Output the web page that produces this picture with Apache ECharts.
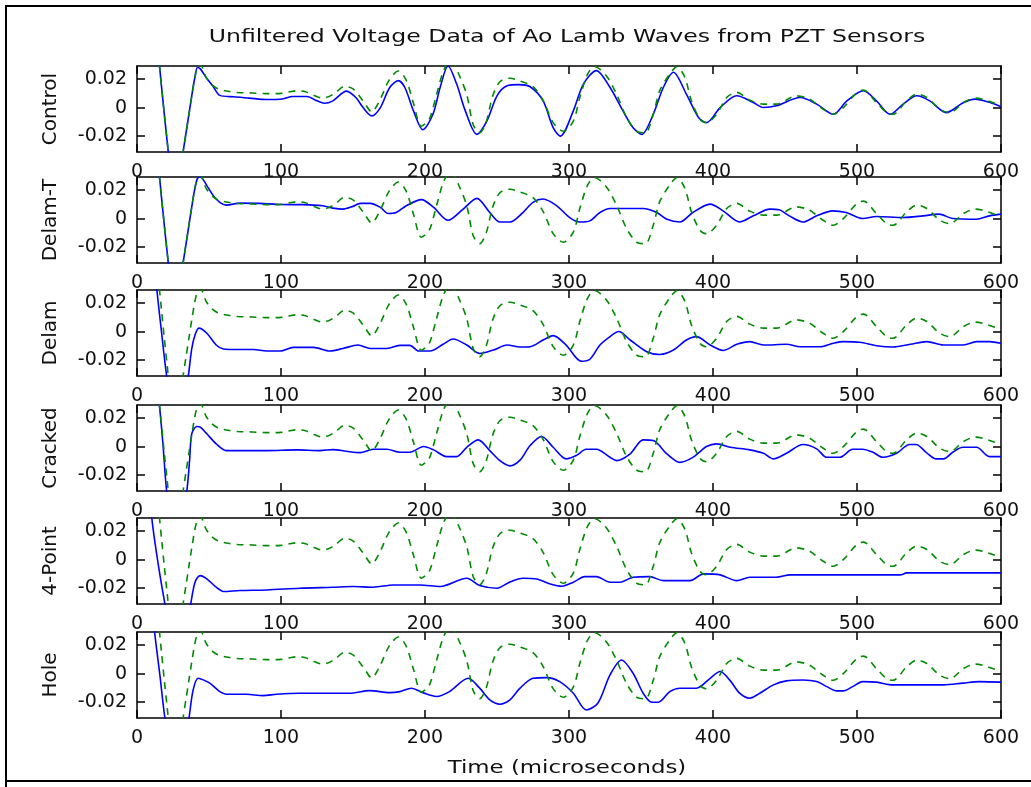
<!DOCTYPE html>
<html>
<head>
<meta charset="utf-8">
<script src="https://cdn.jsdelivr.net/npm/echarts@6/dist/echarts.min.js"></script>
<style>
html, body { margin: 0; padding: 0; background: #fff; }
#chart { width: 1031px; height: 787px; }
</style>
</head>
<body>
<div id="chart"></div>
<script>
// panel names, top to bottom
const panelNames = ['Control', 'Delam-T', 'Delam', 'Cracked', '4-Point', 'Hole'];
const xTicks = [0, 100, 200, 300, 400, 500, 600];
const yTicks = [-0.02, 0, 0.02];

// green dashed reference trace (same in every panel), [time us, volts]
const reference = [
    [10, 0.075], [13, 0.05], [15.5, 0.03], [17, 0.015], [19, -0.005], [21, -0.024], [23, -0.042],
    [26, -0.055], [29, -0.05], [32, -0.031], [34, -0.018], [36, -0.005], [38, 0.008], [40, 0.02],
    [42, 0.028], [44, 0.03], [48, 0.021], [52, 0.016], [56, 0.0132], [62, 0.0115], [70, 0.0105],
    [80, 0.0102], [90, 0.0097], [100, 0.0099], [106, 0.011], [111, 0.0117], [117, 0.011],
    [123, 0.0085], [128, 0.0068], [133, 0.0075], [138, 0.0105], [144, 0.0148], [150, 0.013],
    [157, 0.0047], [163, -0.003], [169, 0.006], [175, 0.019], [181.5, 0.0255], [187, 0.019],
    [192, 0.003], [197.5, -0.013], [203, -0.008], [208, 0.009], [213, 0.026], [218, 0.033],
    [224, 0.022], [229, 0.009], [233.5, -0.012], [238, -0.0175], [242.5, -0.01], [247, 0.008],
    [252, 0.018], [259, 0.0205], [266, 0.0185], [275, 0.0146], [282, 0.005], [289, -0.0105],
    [296, -0.0165], [303, -0.0094], [307.5, 0.007], [313, 0.0235], [318, 0.0285], [326, 0.022],
    [333, 0.0094], [340, -0.007], [347, -0.0165], [353, -0.0176], [358.5, -0.0047], [363, 0.0118],
    [370, 0.0235], [375, 0.0285], [380.5, 0.021], [385, 0.0047], [391, -0.0082], [395.5, -0.0106],
    [402.5, -0.0047], [409.5, 0.007], [416.5, 0.0106], [425.5, 0.0052], [435, 0.0024], [444, 0.0024],
    [458, 0.0082], [467, 0.0059], [476.5, -0.0012], [483.5, -0.0047], [490.5, 0], [500, 0.0106],
    [504.5, 0.0122], [513.5, 0.0035], [520.5, -0.0035], [525, -0.0047], [534.5, 0.0047],
    [541.5, 0.0094], [548.5, 0.007], [557.5, -0.0012], [564.5, -0.0035], [574, 0.0035], [582, 0.0066],
    [591, 0.0047], [600, 0.0012]
];

// blue traces, one per panel
const control = [
    [10, 0.075], [13, 0.05], [15.5, 0.03], [17, 0.015], [19, -0.005], [21, -0.024], [23, -0.042],
    [26, -0.055], [29, -0.05], [32, -0.031], [34, -0.018], [36, -0.005], [38, 0.008], [40, 0.02],
    [42, 0.028], [44, 0.027], [48, 0.021], [53, 0.0145], [57.5, 0.0085], [67, 0.0075], [78, 0.0066],
    [90, 0.0056], [101, 0.006], [108, 0.0077], [118, 0.0077], [125, 0.0047], [130, 0.003],
    [136, 0.0047], [145.5, 0.0115], [152, 0.007], [157, 0], [163, -0.0058], [169, 0], [175.5, 0.014],
    [181.5, 0.0188], [186, 0.014], [192, -0.0023], [198.5, -0.0155], [205.5, -0.0047], [210.5, 0.014],
    [216, 0.029], [222, 0.0164], [228, -0.0023], [236, -0.0187], [243, -0.0093], [250, 0.0082],
    [257, 0.0152], [265, 0.016], [273, 0.0145], [282, 0.0047], [289, -0.014], [294, -0.0199],
    [303, -0.0023], [310, 0.0164], [319, 0.0258], [328.5, 0.014], [337.5, -0.0023], [344.5, -0.014],
    [350.5, -0.0187], [358.5, -0.0047], [365.5, 0.014], [372.5, 0.0246], [381.5, 0.0094], [390, -0.007],
    [395.5, -0.0105], [405, 0], [416.5, 0.0082], [428, 0.0035], [435, 0], [444, 0.0012], [460.5, 0.007],
    [472, 0.0024], [483.5, -0.0047], [493, 0.0047], [504.5, 0.0117], [513.5, 0.0047], [523, -0.0047],
    [532, 0.0024], [541.5, 0.0082], [550.5, 0.0047], [562, -0.0035], [574, 0.0035], [582, 0.0059],
    [592.5, 0.0035], [600, 0.0005]
];

const delamT = [
    [10, 0.075], [13, 0.05], [15.5, 0.03], [17, 0.015], [19, -0.005], [21, -0.024], [23, -0.042],
    [26, -0.055], [29, -0.05], [32, -0.031], [34, -0.018], [36, -0.005], [38, 0.008], [40, 0.02],
    [42, 0.028], [44, 0.029], [48.5, 0.023], [53, 0.016], [57.5, 0.0113], [62, 0.0094], [71.5, 0.0108],
    [85, 0.0106], [100, 0.0098], [115, 0.0097], [129, 0.0089], [136, 0.0073], [143, 0.0066],
    [150, 0.0085], [155, 0.0106], [162, 0.0106], [169, 0.0078], [174.5, 0.0035], [180, 0.0042],
    [187, 0.0089], [197.5, 0.0132], [206, 0.0078], [216, -0.0012], [226.5, 0.0066], [236, 0.0141],
    [245, 0.0042], [252, -0.0024], [259, -0.0024], [268, 0.0042], [275, 0.0113], [282, 0.0136],
    [291.5, 0.0089], [300.5, 0.0007], [307.5, -0.0024], [314.5, -0.0016], [321.5, 0.0042],
    [328.5, 0.007], [351.5, 0.007], [361, 0.0042], [368, -0.0005], [377, -0.0024], [386, 0.0042],
    [398, 0.0101], [407, 0.0054], [418.5, -0.0024], [428, 0.0019], [439.5, 0.0066], [446, 0.0061],
    [453, 0.0019], [462.5, -0.0024], [472, 0.0019], [483, 0.0054], [492.5, 0.0042], [504, 0],
    [513.5, 0.0014], [532, 0.0007], [546, 0.0019], [557, 0.0031], [566.5, 0], [583, -0.0005],
    [592, 0.0019], [600, 0.0031]
];

const delam = [
    [10, 0.07], [13.7, 0.03], [17, 0.0], [20.6, -0.031], [24, -0.05], [28, -0.06], [32, -0.05],
    [35.6, -0.031], [38, -0.012], [40.3, -0.0024], [43, 0.0024], [48.5, -0.0012], [55, -0.0094],
    [60, -0.0122], [67, -0.0125], [81, -0.0125], [90, -0.0136], [99.5, -0.0136], [108.5, -0.011],
    [122.5, -0.011], [134, -0.0136], [143, -0.0118], [153.5, -0.0094], [162, -0.0118], [173, -0.0118],
    [182.5, -0.0096], [189.5, -0.0096], [195.5, -0.0136], [203.5, -0.0136], [212.5, -0.0089],
    [219.5, -0.0052], [229, -0.0094], [238, -0.0153], [247.5, -0.0129], [257, -0.0094], [266, -0.0108],
    [273, -0.0106], [282, -0.0059], [289, -0.0028], [298, -0.0094], [308.5, -0.0207], [314.5, -0.0193],
    [321.5, -0.0094], [328.5, -0.0035], [334.5, 0], [342.5, -0.0059], [354, -0.0141], [363, -0.016],
    [372.5, -0.0129], [381.5, -0.0059], [388.5, -0.0035], [398, -0.0094], [407, -0.0132],
    [416.5, -0.0089], [425.5, -0.007], [435, -0.0094], [451, -0.0089], [460.5, -0.0106],
    [474.5, -0.0106], [483.5, -0.0082], [490.5, -0.007], [502, -0.0075], [513.5, -0.0099],
    [525, -0.0108], [537, -0.0089], [548.5, -0.007], [560, -0.0094], [574, -0.0094], [583, -0.007],
    [592, -0.007], [600, -0.0082]
];

const cracked = [
    [10, 0.07], [15.4, 0.03], [18, 0.002], [20.6, -0.031], [24, -0.05], [28, -0.06], [31, -0.05],
    [34.6, -0.031], [36.5, -0.01], [38, 0.0089], [41.5, 0.014], [44, 0.0135], [48.5, 0.0089],
    [55, 0.0019], [62, -0.0028], [90, -0.0028], [111, -0.0023], [127, -0.0028], [136, -0.0021],
    [145.5, -0.0033], [155, -0.0042], [164, -0.0019], [173.5, -0.0019], [182.5, -0.004],
    [189.5, -0.004], [199, 0], [206, -0.0023], [215, -0.007], [222, -0.007], [229, -0.0005],
    [237, 0.0047], [245, -0.0028], [252, -0.0098], [259, -0.0135], [266, -0.0095], [273, 0.0007],
    [281, 0.007], [289, -0.0005], [298, -0.0086], [305, -0.0063], [312, -0.0019], [319, -0.0019],
    [328.5, -0.0075], [333, -0.0098], [342.5, -0.0051], [351.5, 0.0047], [358.5, 0.0042],
    [368, -0.0051], [377, -0.011], [386, -0.0075], [395.5, 0], [402.5, 0.0019], [412, -0.0005],
    [425.5, -0.0023], [435, -0.0047], [442, -0.0086], [451, -0.0047], [462.5, 0.0014], [472, -0.0016],
    [479, -0.0075], [488, -0.0075], [497, -0.0019], [504, -0.0019], [511, -0.004], [518, -0.0075],
    [527.5, -0.0047], [536.5, 0.0014], [541, 0.0014], [548, -0.004], [555, -0.0086], [560, -0.0086],
    [566.5, -0.004], [573.5, -0.0005], [583, -0.0005], [592, -0.007], [600, -0.007]
];

const fourPoint = [
    [8, 0.07], [10.2, 0.03], [15, -0.005], [19.4, -0.031], [24, -0.055], [30, -0.065], [34, -0.05],
    [37.3, -0.031], [40.3, -0.0158], [43.8, -0.0112], [48.5, -0.0135], [55, -0.0193], [60, -0.0223],
    [71.5, -0.0216], [90, -0.0212], [113, -0.02], [136, -0.0193], [150, -0.0188], [164, -0.0193],
    [178, -0.0177], [196.5, -0.0177], [210.5, -0.0188], [229, -0.013], [238, -0.0181], [250, -0.02],
    [259, -0.0156], [268, -0.013], [277.5, -0.0135], [287, -0.017], [295, -0.0186], [303, -0.0158],
    [311, -0.0119], [319, -0.0119], [328.5, -0.0158], [335.5, -0.0158], [344.5, -0.0123],
    [356, -0.0119], [365.5, -0.0147], [384, -0.0147], [393.5, -0.01], [405, -0.0107], [416.5, -0.0147],
    [425.5, -0.0123], [444, -0.0123], [453.5, -0.0107], [476.5, -0.0107], [500, -0.0107],
    [530, -0.0107], [534.5, -0.0093], [548, -0.0093], [562, -0.0093], [583, -0.0093], [600, -0.0093]
];

const hole = [
    [8, 0.07], [12.1, 0.03], [16, -0.002], [19.4, -0.031], [24, -0.055], [30, -0.065], [33, -0.05],
    [36.1, -0.031], [39, -0.0114], [42.5, -0.0033], [46, -0.0044], [50.5, -0.0067], [57.5, -0.0126],
    [62, -0.0144], [76, -0.0144], [87.5, -0.0154], [97, -0.0144], [113, -0.0137], [131.5, -0.0137],
    [147.5, -0.0137], [161.5, -0.0119], [175.5, -0.0133], [182.5, -0.0126], [190.5, -0.0102],
    [198.5, -0.0133], [208, -0.016], [217, -0.0126], [230, -0.0033], [238, -0.0102], [245, -0.0184],
    [252, -0.0214], [259, -0.0184], [266, -0.0102], [275, -0.0033], [284.5, -0.0028], [293.5, -0.0056],
    [303, -0.0137], [312, -0.0254], [320, -0.0207], [328.5, -0.0009], [336.5, 0.0095], [344.5, 0.0002],
    [351.5, -0.0137], [357.5, -0.02], [362, -0.02], [370, -0.0126], [377, -0.0102], [388.5, -0.0102],
    [398, -0.0033], [405, 0.0014], [411.5, -0.0044], [418.5, -0.0137], [425.5, -0.0172],
    [432.5, -0.0137], [442, -0.0079], [451, -0.0051], [462.5, -0.0045], [472, -0.0056], [479, -0.0091],
    [486, -0.0121], [490.5, -0.0121], [497, -0.0091], [504, -0.0056], [513.5, -0.006], [525, -0.0079],
    [536.5, -0.0079], [560, -0.0079], [573.5, -0.0067], [585, -0.0056], [600, -0.006]
];

const blueTraces = [control, delamT, delam, cracked, fourPoint, hole];

const chart = echarts.init(document.getElementById('chart'));

const FONT = 'DejaVu Sans';
const plotTops = [66, 177, 290, 405, 518, 632];

const grids = [];
const xAxes = [];
const yAxes = [];
const series = [];

panelNames.forEach((name, i) => {
    grids.push({ left: 137, width: 864, top: plotTops[i], height: 86 });

    // 底部和頂部 x 軸 (MATLAB box)
    [false, true].forEach(top => {
        xAxes.push({
            type: 'value',
            gridIndex: i,
            position: top ? 'top' : 'bottom',
            min: 0,
            max: 600,
            interval: 100,
            axisLine: { show: true, onZero: false, lineStyle: { color: '#000', width: 1.5 } },
            axisTick: { show: true, inside: true, length: 8, customValues: xTicks, lineStyle: { color: '#000', width: 1.5 } },
            axisLabel: {
                show: !top,
                customValues: xTicks,
                margin: 11,
                color: '#111',
                fontFamily: FONT,
                fontSize: 19
            },
            splitLine: { show: false }
        });
    });

    // 左右 y 軸
    [false, true].forEach(right => {
        yAxes.push({
            type: 'value',
            gridIndex: i,
            position: right ? 'right' : 'left',
            min: -0.031,
            max: 0.029,
            name: right ? '' : name,
            nameLocation: 'middle',
            nameRotate: 90,
            nameGap: 76,
            nameTextStyle: { color: '#111', fontFamily: FONT, fontSize: 20 },
            axisLine: { show: true, onZero: false, lineStyle: { color: '#000', width: 1.5 } },
            axisTick: { show: true, inside: true, length: 8, customValues: yTicks, lineStyle: { color: '#000', width: 1.5 } },
            axisLabel: {
                show: !right,
                customValues: yTicks,
                margin: 10,
                color: '#111',
                fontFamily: FONT,
                fontSize: 19
            },
            splitLine: { show: false }
        });
    });

    series.push({
        type: 'line',
        xAxisIndex: i * 2,
        yAxisIndex: i * 2,
        data: blueTraces[i],
        showSymbol: false,
        smooth: 0.3,
        clip: true,
        lineStyle: { color: '#0000ff', width: 1.6 }
    });
    series.push({
        type: 'line',
        xAxisIndex: i * 2,
        yAxisIndex: i * 2,
        data: reference,
        showSymbol: false,
        smooth: 0.3,
        clip: true,
        lineStyle: { color: '#008a00', width: 1.6, type: [7, 6] }
    });
});

const option = {
    backgroundColor: '#fff',
    animation: false,
    grid: grids,
    xAxis: xAxes,
    yAxis: yAxes,
    series: series,
    graphic: [
        {
            type: 'rect',
            shape: { x: 6, y: 6, width: 1040, height: 775 },
            style: { fill: 'rgba(0,0,0,0)', stroke: '#000', lineWidth: 2 }
        },
        {
            type: 'line',
            shape: { x1: 6, y1: 781, x2: 6, y2: 787 },
            style: { stroke: '#000', lineWidth: 2 }
        },
        {
            type: 'text',
            x: 567,
            y: 37,
            scaleX: 1.31,
            style: {
                text: 'Unfiltered Voltage Data of Ao Lamb Waves from PZT Sensors',
                fontFamily: FONT,
                fontSize: 18,
                fill: '#111',
                textAlign: 'center',
                textVerticalAlign: 'middle'
            }
        },
        {
            type: 'text',
            x: 567,
            y: 768,
            scaleX: 1.27,
            style: {
                text: 'Time (microseconds)',
                fontFamily: FONT,
                fontSize: 18,
                fill: '#111',
                textAlign: 'center',
                textVerticalAlign: 'middle'
            }
        }
    ]
};

chart.setOption(option);
</script>
</body>
</html>
